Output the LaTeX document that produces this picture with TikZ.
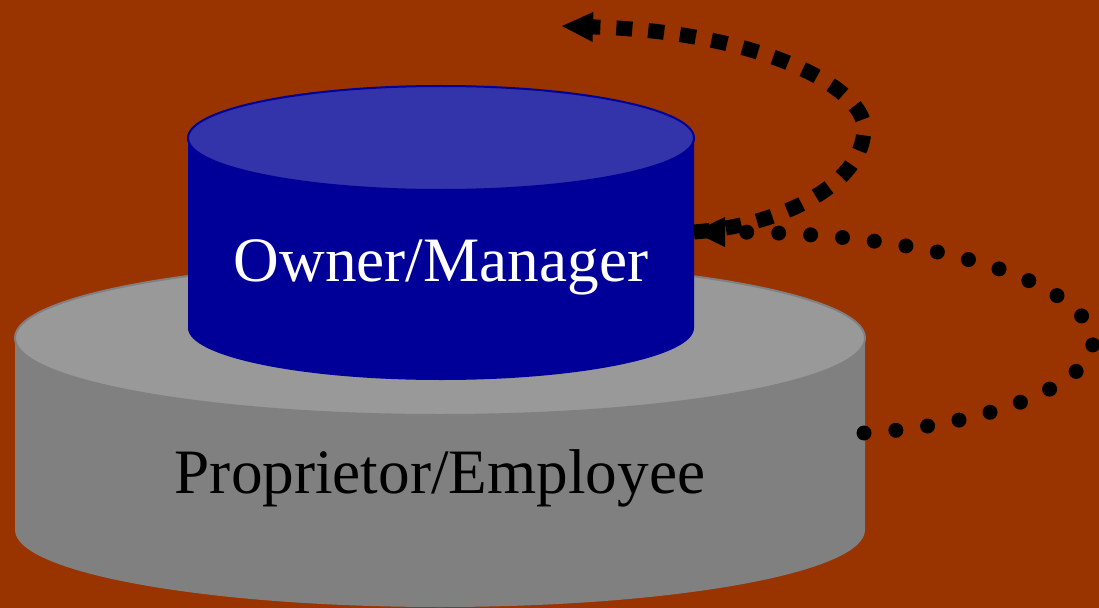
\documentclass[tikz,border=0pt]{standalone}
\usepackage{fontspec}
\setmainfont{Liberation Serif}
\usetikzlibrary{arrows.meta}
\definecolor{bgbrown}{HTML}{993300}
\definecolor{mgrside}{HTML}{000099}
\definecolor{mgrtop}{HTML}{3333AA}
\definecolor{empside}{HTML}{808080}
\definecolor{emptop}{HTML}{999999}
\begin{document}
\begin{tikzpicture}[x=0.02cm, y=-0.02cm,
    labeltext/.style={font=\fontsize{36}{43}\selectfont, inner sep=0pt, anchor=base},
    flowtip/.style={-{Triangle[length=0.62cm, width=0.6cm, line width=0pt]}},
    dashflow/.style={flowtip, line width=0.3cm, dash pattern=on 0.32cm off 0.32cm},
    dotflow/.style={flowtip, line width=0.3cm, line cap=round, dash pattern=on 0pt off 0.64cm}]
    % Background
    \fill[bgbrown] (0,0) rectangle (1099,608);
    \useasboundingbox (0,0) rectangle (1099,608);

    % Proprietor/Employee cylinder
    \fill[empside] (15,338) -- (15,530) arc[start angle=180, end angle=0, x radius=425, y radius=77] -- (865,338) -- cycle;
    \filldraw[fill=emptop, draw=empside, line width=0.04cm] (440,338) ellipse[x radius=425, y radius=77];
    \node[labeltext] (emp) at (440,493) {Proprietor/Employee};

    % Owner/Manager cylinder
    \fill[mgrside] (188,138) -- (188,328) arc[start angle=180, end angle=0, x radius=253, y radius=52] -- (694,138) -- cycle;
    \filldraw[fill=mgrtop, draw=mgrside, line width=0.04cm] (441,138) ellipse[x radius=253, y radius=52];
    \node[labeltext, text=white] (mgr) at (441,281) {Owner/Manager};

    % Connector ends
    \coordinate (mgr port) at (694,232);
    \coordinate (emp port) at (864,433);
    \coordinate (exit) at (562,26);

    % Dotted: employee up to manager
    \draw[dotflow] (emp port) .. controls (994,425) and (1093,382) .. (1093,342)
        .. controls (1093,292) and (960,232) .. (mgr port);

    % Dashed: manager out
    \draw[dashflow] (mgr port) .. controls (784,225) and (864,183) .. (864,128)
        .. controls (864,88) and (762,32) .. (exit);
\end{tikzpicture}
\end{document}
